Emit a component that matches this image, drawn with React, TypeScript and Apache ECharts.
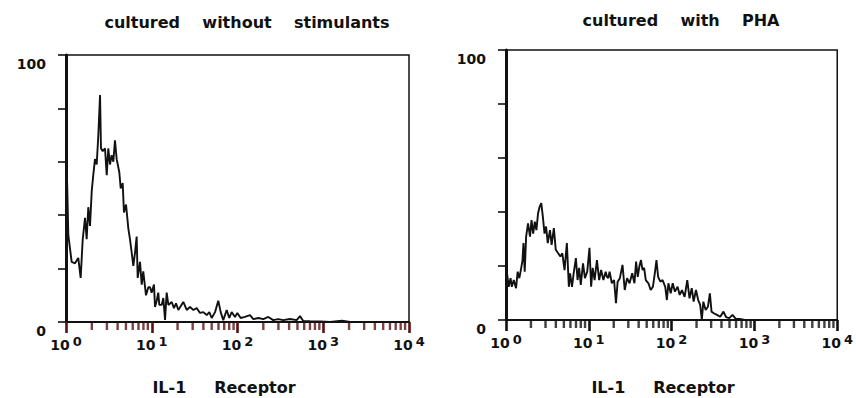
import React, { useEffect, useRef } from "react";
import * as echarts from "echarts";

// ---- text ----
const panelTitles = ["cultured    without    stimulants", "cultured    with    PHA"];
const axisTitle = "IL-1     Receptor";
const yLabelValues = [0, 100];
const minorMantissas = [2, 3, 4, 5, 6, 7, 8, 9];
const decades = [0, 1, 2, 3];

// ---- data: x = log10(fluorescence), y = relative cell count ----
const leftLogX = [0.0, 0.015, 0.027, 0.066, 0.105, 0.143, 0.171, 0.195, 0.222, 0.241,
  0.26, 0.28, 0.3, 0.318, 0.338, 0.358, 0.377, 0.397, 0.408, 0.428,
  0.455, 0.475, 0.493, 0.513, 0.533, 0.552, 0.571, 0.591, 0.622, 0.638,
  0.661, 0.676, 0.7, 0.727, 0.746, 0.766, 0.785, 0.805, 0.824, 0.836,
  0.863, 0.883, 0.901, 0.933, 0.96, 0.98, 0.999, 1.026, 1.038, 1.058,
  1.076, 1.088, 1.116, 1.135, 1.155, 1.174, 1.194, 1.233, 1.259, 1.283,
  1.31, 1.368, 1.408, 1.446, 1.485, 1.524, 1.563, 1.601, 1.641, 1.671,
  1.699, 1.738, 1.776, 1.804, 1.834, 1.874, 1.904, 1.932, 1.971, 1.998,
  2.037, 2.087, 2.146, 2.184, 2.243, 2.301, 2.359, 2.417, 2.476, 2.534,
  2.612, 2.69, 2.729, 2.767, 2.845, 2.962, 3.079, 3.219, 3.312, 4.0];
const leftCounts = [66, 50, 32.6, 22.5, 22, 24, 16.5, 31, 39, 31,
  43, 36, 49, 55, 61, 59, 70, 85, 65, 64,
  65, 55, 65, 59, 62.5, 60, 68, 61, 56, 50,
  52, 41, 44, 35, 31, 26, 21, 26, 32, 16.5,
  22.5, 14, 19, 10, 13, 13, 11, 14, 5.6, 8,
  11, 6.4, 6.4, 9, 0.8, 11, 6.4, 7.5, 5.2, 7,
  4.5, 7.5, 4.5, 5.6, 4.5, 5.2, 3.4, 3.7, 2.6, 3.7,
  1.5, 3.7, 8, 3.7, 0.7, 4.5, 1.5, 3.7, 1.9, 3.4,
  1.5, 1.9, 2.6, 1.1, 1.5, 1.1, 1.9, 0.7, 1.1, 0.7,
  1.1, 0.7, 2.2, 0.4, 0.3, 0.2, 0, 0.5, 0, 0];

const rightLogX = [0.0, 0.015, 0.032, 0.055, 0.07, 0.094, 0.121, 0.141, 0.161, 0.179,
  0.199, 0.211, 0.226, 0.243, 0.266, 0.29, 0.308, 0.328, 0.348, 0.367,
  0.387, 0.407, 0.426, 0.445, 0.465, 0.484, 0.504, 0.531, 0.551, 0.578,
  0.601, 0.63, 0.657, 0.68, 0.707, 0.735, 0.759, 0.774, 0.797, 0.817,
  0.844, 0.864, 0.883, 0.903, 0.93, 0.953, 0.981, 1.008, 1.028, 1.047,
  1.07, 1.098, 1.125, 1.149, 1.176, 1.204, 1.219, 1.235, 1.251, 1.278,
  1.305, 1.328, 1.348, 1.375, 1.407, 1.434, 1.462, 1.492, 1.524, 1.551,
  1.571, 1.591, 1.61, 1.63, 1.649, 1.668, 1.688, 1.72, 1.747, 1.774,
  1.797, 1.817, 1.837, 1.864, 1.891, 1.923, 1.943, 1.961, 1.989, 2.013,
  2.04, 2.072, 2.098, 2.125, 2.157, 2.189, 2.216, 2.243, 2.266, 2.294,
  2.321, 2.345, 2.365, 2.383, 2.411, 2.438, 2.462, 2.482, 2.509, 2.548,
  2.587, 2.626, 2.657, 2.696, 2.735, 2.775, 2.822, 2.884, 4.0];
const rightCounts = [18, 16.7, 12.3, 15.5, 12.3, 14.8, 11.8, 17.9, 15.5, 18.5,
  22, 28.5, 17.9, 30.9, 35.8, 30.9, 37, 32, 36.4, 33.3,
  39.5, 42, 43.3, 38.3, 32, 34.6, 28.5, 33.3, 27.8, 34,
  26, 24.7, 23.5, 24.7, 18.5, 28.5, 12.3, 17.3, 12.3, 17.3,
  22.9, 14.8, 19.3, 13, 21, 15.5, 17.9, 26.7, 12.3, 19.3,
  14.8, 22.2, 14.8, 18.5, 14.8, 17.9, 16, 15.5, 17.9, 13.6,
  14.8, 6.2, 14.2, 15.5, 20.4, 11.1, 15.5, 13.6, 17.3, 13.6,
  21.6, 16, 19.8, 22.2, 18.5, 19.3, 14.8, 13.6, 11.1, 12.3,
  17.3, 22.2, 16, 14.2, 14.8, 12.3, 7.4, 13.6, 9.9, 13.6,
  10.5, 12.3, 9.3, 11.1, 8.6, 14.8, 8, 11.8, 6.8, 11.1,
  7.4, 5.6, 0, 6.8, 3.7, 4.9, 9.9, 3.1, 2.5, 1.9,
  1.2, 3.1, 1.1, 0.7, 1.9, 0.4, 0.4, 0, 0];

const FONT = "DejaVu Sans";
const INK = "#111111";
const TICK_INK = ["#5a1010", "#111111"];

export default function App() {
  const ref = useRef<HTMLDivElement>(null);
  useEffect(() => {
    if (!ref.current) return;
    const chart = echarts.init(ref.current, undefined, { renderer: "svg" });
    const grids = [
      { left: 66, top: 55, width: 343, height: 267 },
      { left: 506, top: 50, width: 341, height: 270 },
    ];
    const minorTicks: number[][] = [];
    decades.forEach((d) => minorMantissas.forEach((m) => minorTicks.push([d + Math.log10(m), 0])));
    const series: any[] = [];
    [[leftLogX, leftCounts], [rightLogX, rightCounts]].forEach(([xs, ys], i) => {
      series.push({
        type: "line",
        xAxisIndex: i,
        yAxisIndex: i,
        data: xs.map((x, k) => [x, ys[k]]),
        showSymbol: false,
        lineStyle: { color: INK, width: 1.9 },
      });
      series.push({
        type: "scatter",
        xAxisIndex: i,
        yAxisIndex: i,
        data: minorTicks,
        symbol: "rect",
        symbolSize: [2.4, 7],
        symbolOffset: [0, 4.5],
        itemStyle: { color: TICK_INK[i] },
        clip: false,
        silent: true,
        z: 10,
      });
    });
    const titleStyle = { fontFamily: FONT, fontWeight: "bold", fontSize: 16, color: INK };
    const option: any = {
      animation: false,
      backgroundColor: "#ffffff",
      title: [
        { text: panelTitles[0], left: 247, top: 14, textAlign: "center", padding: 0, textStyle: titleStyle },
        { text: panelTitles[1], left: 681, top: 12, textAlign: "center", padding: 0, textStyle: titleStyle },
        { text: axisTitle, left: 224, top: 379, textAlign: "center", padding: 0, textStyle: titleStyle },
        { text: axisTitle, left: 663, top: 379, textAlign: "center", padding: 0, textStyle: titleStyle },
      ],
      grid: grids.map((g) => ({ ...g, show: true, borderColor: INK, borderWidth: 1.5, backgroundColor: "transparent" })),
      xAxis: grids.map((_, i) => ({
        type: "value",
        gridIndex: i,
        min: 0,
        max: 4,
        interval: 1,
        axisLine: { show: true, lineStyle: { color: INK, width: 2 } },
        axisTick: { show: true, length: 11, lineStyle: { color: TICK_INK[i], width: 2.6 } },
        splitLine: { show: false },
        axisLabel: {
          margin: 13,
          formatter: (v: number) => `{b|10}{s|${v}}`,
          rich: {
            b: { fontFamily: FONT, fontWeight: "bold", fontSize: 14, lineHeight: 15, padding: [5, 0, 0, 0] },
            s: { fontFamily: FONT, fontWeight: "bold", fontSize: 13, lineHeight: 14, verticalAlign: "top", padding: [0, 0, 0, 3] },
          },
          color: INK,
        },
      })),
      yAxis: grids.map((_, i) => ({
        type: "value",
        gridIndex: i,
        min: 0,
        max: 100,
        interval: 20,
        axisLine: { show: true, lineStyle: { color: INK, width: 3 } },
        axisTick: { show: true, length: 8, lineStyle: { color: INK, width: 1.6 } },
        splitLine: { show: false },
        axisLabel: {
          margin: 20,
          formatter: (v: number) => (yLabelValues.includes(v) ? String(v) : ""),
          verticalAlign: "top",
          lineHeight: 17,
          fontFamily: FONT,
          fontWeight: "bold",
          fontSize: 14,
          color: INK,
        },
      })),
      series,
    };
    chart.setOption(option);
    return () => chart.dispose();
  }, []);
  return <div ref={ref} style={{ position: "fixed", left: 0, top: 0, width: 856, height: 398 }} />;
}
